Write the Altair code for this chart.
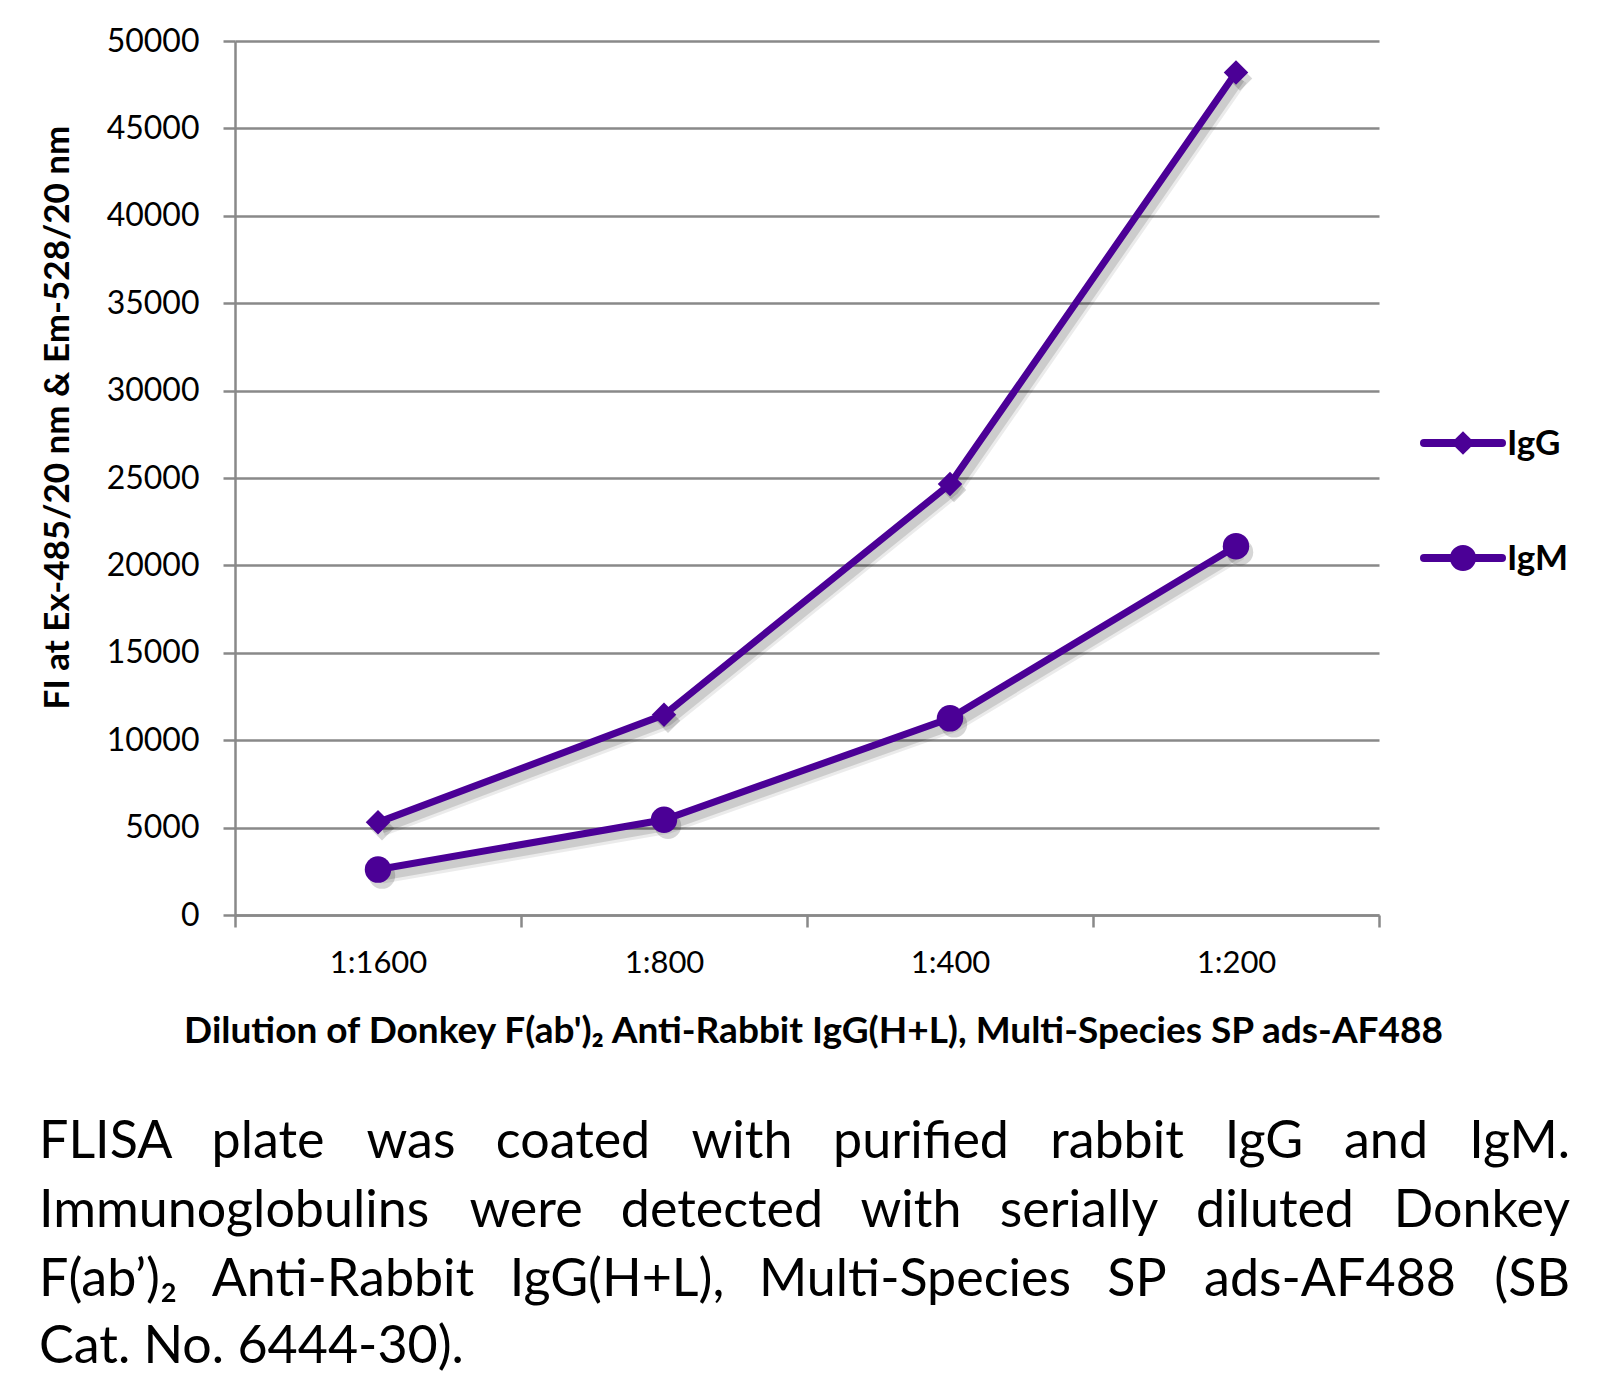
import json
import altair as alt
import pandas as pd

# ---------------- data ----------------
categories = ["1:1600", "1:800", "1:400", "1:200"]
igg = [5300, 11450, 24650, 48200]
igm = [2600, 5450, 11250, 21100]
series = ["IgG", "IgM"]
y_ticks = list(range(0, 50001, 5000))

x_title = "Dilution of Donkey F(ab')\u2082 Anti-Rabbit IgG(H+L), Multi-Species SP ads-AF488"
y_title = "FI at Ex-485/20 nm & Em-528/20 nm"

caption_lines = [
    ["FLISA", "plate", "was", "coated", "with", "purified", "rabbit", "IgG", "and", "IgM."],
    ["Immunoglobulins", "were", "detected", "with", "serially", "diluted", "Donkey"],
    ["F(ab\u2019)\u2082", "Anti-Rabbit", "IgG(H+L),", "Multi-Species", "SP", "ads-AF488", "(SB"],
    ["Cat. No. 6444-30)."],
]

# ---------------- layout (pixels) ----------------
OX, OY = 235, 41
W, H = 1144, 874
caption_centers = [
    [104, 268, 411, 573, 742, 921, 1117, 1264, 1386, 1527],
    [256, 526, 722, 911, 1079, 1275, 1472],
    [119, 343, 617, 915, 1137, 1330, 1530],
    [0],
]
caption_baselines = [1158, 1227, 1296, 1363]
CAP_LEFT, CAP_RIGHT = 39, 1570

PURPLE = "#4B0096"
GRID = "#898989"
FONT = "Lato"

rows = []
for i, c in enumerate(categories):
    rows.append({"category": c, "pos": i + 0.5, "value": igg[i], "series": "IgG"})
    rows.append({"category": c, "pos": i + 0.5, "value": igm[i], "series": "IgM"})
df = pd.DataFrame(rows)

label_expr = (
    "datum.value % 1 == 0.5 ? " + json.dumps(categories) + "[floor(datum.value)] : ''"
)

x_enc = alt.X(
    "pos:Q",
    scale=alt.Scale(domain=[0, len(categories)], nice=False, zero=False),
    axis=alt.Axis(
        values=[k * 0.5 for k in range(2 * len(categories) + 1)],
        labelExpr=label_expr,
        tickOpacity={"condition": {"test": "datum.value % 1 == 0", "value": 1}, "value": 0},
        tickSize=12,
        tickWidth=2.5,
        tickColor=GRID,
        domainColor=GRID,
        domainWidth=2.5,
        grid=False,
        labelFont=FONT,
        labelFontSize=31,
        labelColor="black",
        labelPadding=21,
        labelFlush=False,
        labelOverlap=False,
        title=x_title,
        titleFont=FONT,
        titleFontSize=37,
        titleFontWeight="bold",
        titleColor="black",
        titlePadding=35,
        titleX=813 - OX,
        titleAlign="center",
    ),
)
y_enc = alt.Y(
    "value:Q",
    scale=alt.Scale(domain=[0, 50000], nice=False),
    axis=alt.Axis(
        values=y_ticks,
        format="d",
        tickSize=12,
        tickWidth=2.5,
        tickColor=GRID,
        domainColor=GRID,
        domainWidth=2.5,
        grid=True,
        gridColor=GRID,
        gridWidth=2.5,
        labelFont=FONT,
        labelFontSize=32,
        labelColor="black",
        labelPadding=24,
        title=y_title,
        titleFont=FONT,
        titleFontSize=35,
        titleFontWeight="bold",
        titleColor="black",
        titleAngle=270,
        titleX=57 - OX,
        titleY=417 - OY,
        titleAlign="center",
        titleBaseline="middle",
    ),
)
color_enc = alt.Color("series:N", scale=alt.Scale(domain=series, range=[PURPLE, PURPLE]), legend=None)
shape_enc = alt.Shape("series:N", scale=alt.Scale(domain=series, range=["diamond", "circle"]), legend=None)
size_enc = alt.Size("series:N", scale=alt.Scale(domain=series, range=[600, 700]), legend=None)

base = alt.Chart(df).encode(x=x_enc, y=y_enc, detail="series:N")

shadow_line2 = base.mark_line(color="#000000", opacity=0.08, strokeWidth=16, xOffset=4, yOffset=6)
shadow_line = base.mark_line(color="#000000", opacity=0.13, strokeWidth=10, xOffset=4, yOffset=6)
shadow_pts = base.mark_point(filled=True, color="#000000", opacity=0.16, xOffset=4, yOffset=6).encode(
    shape=shape_enc, size=size_enc
)
lines = base.mark_line(strokeWidth=7).encode(color=color_enc)
points = base.mark_point(filled=True, opacity=1).encode(color=color_enc, shape=shape_enc, size=size_enc)

layers = [shadow_line2, shadow_line, shadow_pts, lines, points]

# ---------------- manual legend ----------------
legend_y = [443 - OY, 558 - OY]
legend_shapes = ["diamond", "circle"]
legend_sizes = [560, 680]
for name, ly, shp, sz in zip(series, legend_y, legend_shapes, legend_sizes):
    ldf = pd.DataFrame({"s": [name]})
    layers.append(
        alt.Chart(ldf).mark_rule(color=PURPLE, strokeWidth=8, strokeCap="round").encode(
            x=alt.value(1424 - OX), x2=alt.value(1502 - OX), y=alt.value(ly)
        )
    )
    layers.append(
        alt.Chart(ldf).mark_point(filled=True, opacity=1, color=PURPLE, shape=shp, size=sz).encode(
            x=alt.value(1463 - OX), y=alt.value(ly)
        )
    )
    layers.append(
        alt.Chart(ldf).mark_text(
            align="left", baseline="middle", font=FONT, fontSize=35, fontWeight="bold", color="black"
        ).encode(x=alt.value(1507 - OX), y=alt.value(ly + 1), text="s:N")
    )

# ---------------- caption (justified by word placement) ----------------
for words, centers, bl in zip(caption_lines, caption_centers, caption_baselines):
    n = len(words)
    for j, (w, cx) in enumerate(zip(words, centers)):
        if j == 0:
            align, px = "left", CAP_LEFT
        elif j == n - 1:
            align, px = "right", CAP_RIGHT
        else:
            align, px = "center", cx
        layers.append(
            alt.Chart(pd.DataFrame({"t": [w]})).mark_text(
                align=align, baseline="alphabetic", font=FONT, fontSize=52, color="black"
            ).encode(x=alt.value(px - OX), y=alt.value(bl - OY), text="t:N")
        )

chart = (
    alt.layer(*layers)
    .properties(
        width=W,
        height=H,
        autosize=alt.AutoSizeParams(type="none"),
        padding={"left": OX - 8, "top": OY - 8, "right": 1620 - 8 - OX - W, "bottom": 1382 - 8 - OY - H},
        background="white",
    )
    .configure_view(stroke=None)
)

chart.save("out.html", embed_options={"renderer": "svg", "actions": False})
